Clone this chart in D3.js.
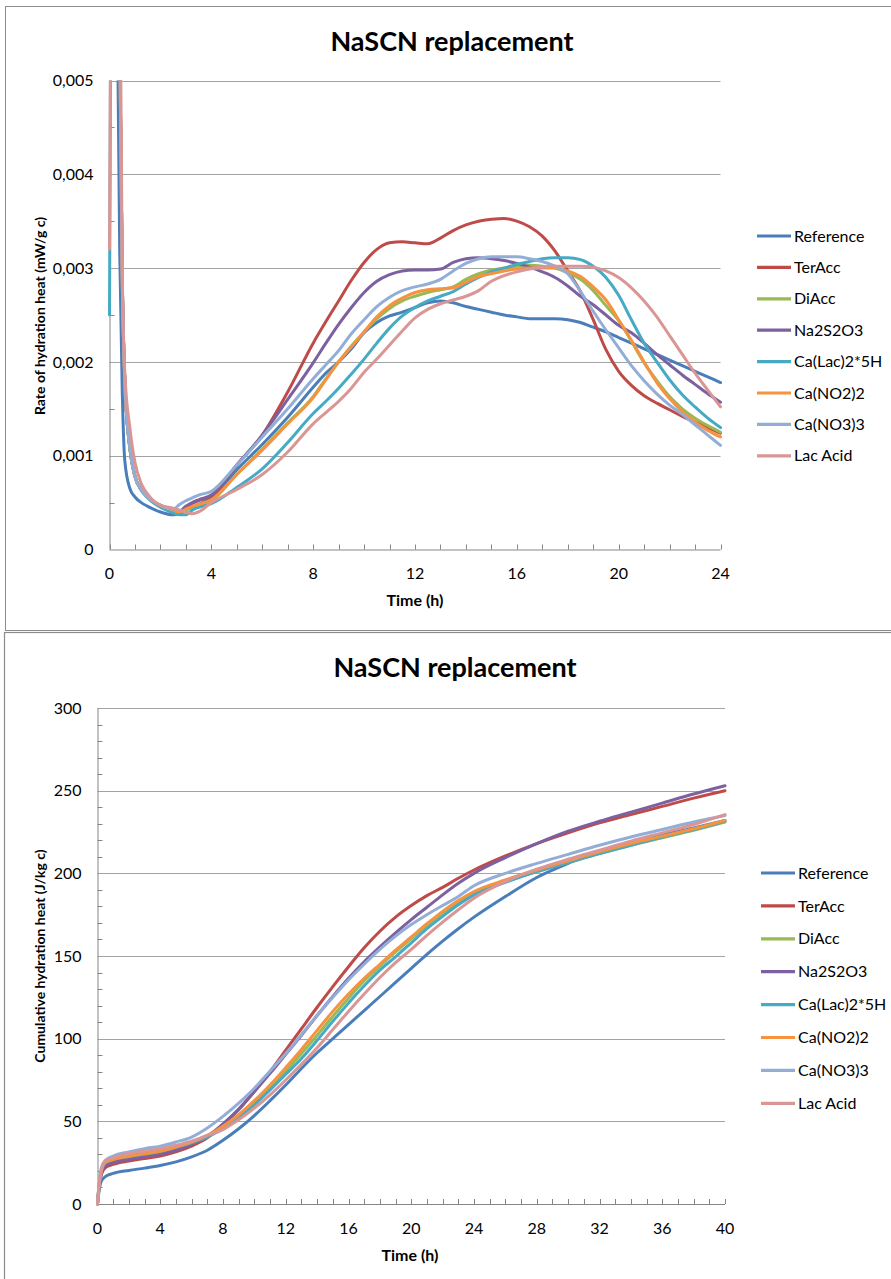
<!DOCTYPE html>
<html>
<head>
<meta charset="utf-8">
<script src="https://cdn.jsdelivr.net/npm/d3@7"></script>
<style>
  html, body { margin: 0; padding: 0; background: #fff; }
  svg { display: block; font-family: "Lato", "Open Sans", sans-serif; }
</style>
</head>
<body>
<svg id="chart" width="891" height="1279"></svg>
<script>
// ---------- DATA ----------
const seriesNames = ["Reference", "TerAcc", "DiAcc", "Na2S2O3", "Ca(Lac)2*5H", "Ca(NO2)2", "Ca(NO3)3", "Lac Acid"];
const seriesColors = ["#4A7EBB", "#BE4B48", "#98B954", "#7D60A0", "#46AAC5", "#F69240", "#93AED6", "#D99694"];

// Top chart: rate of hydration heat (mW/g c) vs time (h)
const rateHours = [0, 0.1, 0.2, 0.3, 0.4, 0.5, 0.6, 0.8, 1, 1.25, 1.5, 2, 2.5, 2.75, 3, 3.25, 3.5,
  4, 5, 6, 7, 8, 8.5, 9, 9.5, 10, 10.5, 11, 11.5, 12, 12.5, 13, 13.5, 14, 14.5, 15, 15.5, 16, 16.5,
  17, 17.5, 18, 18.5, 19, 19.5, 20, 20.5, 21, 21.5, 22, 22.5, 23, 23.5, 24];

const rateReference = [0.012, 0.012, 0.011, 0.006, 0.0032, 0.0017, 0.00095, 0.00065, 0.00056, 0.0005, 0.00046, 0.0004, 0.00037, 0.00038, 0.00042, 0.00045, 0.00048,
  0.00055, 0.00085, 0.00112, 0.00141,
  0.00173, 0.00188, 0.002, 0.00214, 0.00231, 0.00242, 0.00249, 0.00253, 0.00258, 0.00263, 0.00265, 0.00263, 0.00259, 0.00256, 0.00253, 0.0025, 0.00248, 0.00246, 0.00246, 0.00246, 0.00245, 0.00242, 0.00237, 0.00232, 0.00226, 0.0022, 0.00214, 0.00208, 0.00202, 0.00196, 0.0019, 0.00184, 0.00178];
const rateTerAcc = [0.006, 0.012, 0.012, 0.009, 0.0055, 0.0029, 0.0018, 0.00108, 0.00078, 0.00064, 0.00056, 0.00047, 0.00042, 0.0004, 0.00045, 0.00049, 0.00052,
  0.00057, 0.0009, 0.00122, 0.00168,
  0.0022, 0.00243, 0.00265, 0.00287, 0.00306, 0.0032, 0.00327, 0.00328, 0.00327, 0.00326, 0.00332, 0.0034, 0.00346, 0.0035, 0.00352, 0.00353, 0.0035, 0.00344, 0.00334, 0.00318, 0.00297, 0.00275, 0.00245, 0.00213, 0.0019, 0.00175, 0.00164, 0.00156, 0.00149, 0.00142, 0.00136, 0.0013, 0.00124];
const rateDiAcc = [0.006, 0.012, 0.012, 0.009, 0.0055, 0.0029, 0.0018, 0.00108, 0.00078, 0.00064, 0.00056, 0.00047, 0.00042, 0.0004, 0.00042, 0.00045, 0.00047,
  0.00052, 0.0008, 0.00107, 0.00135,
  0.00163, 0.00182, 0.002, 0.00217, 0.00232, 0.00246, 0.00257, 0.00265, 0.0027, 0.00274, 0.00277, 0.0028, 0.00288, 0.00294, 0.00298, 0.003, 0.00302, 0.00303, 0.00302, 0.003, 0.00295, 0.00288, 0.00276, 0.0026, 0.00244, 0.00222, 0.00199, 0.0018, 0.00163, 0.0015, 0.0014, 0.00132, 0.00125];
const rateNa2S2O3 = [0.006, 0.012, 0.012, 0.009, 0.0055, 0.0029, 0.0018, 0.00108, 0.00078, 0.00064, 0.00056, 0.00047, 0.00042, 0.00041, 0.00046, 0.0005, 0.00053,
  0.00058, 0.0009, 0.00122, 0.0016,
  0.00199, 0.0022, 0.0024, 0.00258, 0.00274, 0.00286, 0.00293, 0.00297, 0.00298, 0.00298, 0.00299, 0.00306, 0.0031, 0.00311, 0.0031, 0.00308, 0.00305, 0.00301, 0.00296, 0.0029, 0.00281, 0.0027, 0.00261, 0.0025, 0.00239, 0.00231, 0.0022, 0.00208, 0.00197, 0.00186, 0.00176, 0.00166, 0.00157];
const rateCaLac = [0.0025, 0.009, 0.012, 0.009, 0.0055, 0.0029, 0.0018, 0.00108, 0.00078, 0.00063, 0.00055, 0.00045, 0.00039, 0.00037, 0.00037, 0.00042, 0.00045,
  0.00049, 0.00066, 0.00086, 0.00114,
  0.00145, 0.00158, 0.00172, 0.00187, 0.00203, 0.0022, 0.00236, 0.00249, 0.00258, 0.00265, 0.0027, 0.00275, 0.00283, 0.0029, 0.00296, 0.003, 0.00304, 0.00307, 0.0031, 0.00311, 0.00311, 0.00309, 0.00302, 0.0029, 0.00271, 0.00245, 0.0022, 0.002, 0.00181, 0.00165, 0.00152, 0.0014, 0.0013];
const rateCaNO2 = [0.006, 0.012, 0.012, 0.009, 0.0055, 0.0029, 0.0018, 0.00108, 0.00078, 0.00064, 0.00056, 0.00047, 0.00042, 0.0004, 0.00043, 0.00046, 0.00048,
  0.00053, 0.0008, 0.00106, 0.00134,
  0.00162, 0.00181, 0.002, 0.00216, 0.00232, 0.00248, 0.0026, 0.00268, 0.00274, 0.00277, 0.00278, 0.00279, 0.00285, 0.00291, 0.00294, 0.00297, 0.00299, 0.003, 0.003, 0.003, 0.00297, 0.00291, 0.0028, 0.00266, 0.00245, 0.00223, 0.002, 0.00178, 0.00161, 0.00147, 0.00136, 0.00127, 0.0012];
const rateCaNO3 = [0.006, 0.012, 0.012, 0.009, 0.0055, 0.0029, 0.0018, 0.00108, 0.00078, 0.00064, 0.00056, 0.00047, 0.00043, 0.00048, 0.00052, 0.00055, 0.00058,
  0.00062, 0.0009, 0.0012, 0.0015,
  0.00182, 0.00197, 0.00212, 0.0023, 0.00245, 0.00259, 0.00269, 0.00276, 0.0028, 0.00283, 0.00288, 0.00297, 0.00305, 0.0031, 0.00312, 0.00312, 0.00312, 0.0031, 0.00307, 0.00302, 0.00294, 0.00275, 0.00254, 0.00234, 0.00215, 0.00196, 0.0018, 0.00166, 0.00154, 0.00144, 0.00133, 0.00122, 0.00111];
const rateLacAcid = [0.0032, 0.009, 0.012, 0.01, 0.0068, 0.003, 0.0019, 0.0013, 0.00093, 0.0007, 0.00059, 0.00047, 0.00044, 0.00042, 0.0004, 0.00038, 0.0004,
  0.0005, 0.00064, 0.0008, 0.00104,
  0.00134, 0.00146, 0.00158, 0.00172, 0.00189, 0.00203, 0.00218, 0.00233, 0.00247, 0.00256, 0.00262, 0.00266, 0.0027, 0.00276, 0.00286, 0.00292, 0.00296, 0.00299, 0.00301, 0.00302, 0.00302, 0.00302, 0.00301, 0.00297, 0.0029, 0.00279, 0.00265, 0.00248, 0.00228, 0.00208, 0.00188, 0.0017, 0.00152];

// Bottom chart: cumulative hydration heat (J/kg c) vs time (h)
const cumHours = [0, 0.1, 0.25, 0.5, 1, 2, 3, 4, 5, 6, 7, 8, 9, 10, 11, 12, 13, 14, 15, 16, 17, 18, 19, 20,
  21, 22, 23, 24, 26, 28, 30, 32, 34, 36, 38, 40];
const cumReference = [0, 8, 14, 16.5, 18.5, 20.3, 21.7, 23.3, 25.5, 28.5, 32.5, 38.5, 45.5, 53.5, 62.5, 72, 82, 91.5, 100, 108.5, 117, 125.5, 134, 142.5, 151, 159, 166.5, 173.5, 186, 197.5, 206, 213.5, 218, 223, 227.5, 232];
const cumTerAcc = [0, 10, 18, 22, 24, 26, 27.5, 29, 31.5, 35, 40, 48, 57, 68, 80, 93, 106, 119, 131.5, 143.5, 155, 165, 173.5, 180.5, 186.5, 191.5, 197, 202, 210.5, 218, 224.5, 230.5, 235.5, 240.5, 245.5, 250];
const cumDiAcc = [0, 11, 20, 24.5, 26.5, 28.5, 30, 31.5, 34, 37, 41, 46.5, 53, 61, 70.5, 80.5, 91, 102, 113.5, 124.5, 135, 144, 152.5, 160.5, 168.5, 176, 182.5, 188, 195, 201, 206.5, 212, 217, 221.5, 226, 231];
const cumNa2S2O3 = [0, 10, 19, 23, 25, 27, 28.5, 30, 32.5, 36, 41, 48.5, 57.5, 68, 79, 90.5, 102, 114, 125.5, 136.5, 146.5, 155.5, 164, 172, 179.5, 187, 194, 200, 209.5, 218, 225.5, 231.5, 237, 242.5, 248, 253];
const cumCaLac = [0, 11, 20, 25, 27, 29.5, 31, 32.5, 34.5, 37, 40.5, 45.5, 52, 60, 69, 78.5, 88, 99, 110.5, 121.5, 132, 141.5, 149.5, 158, 166.5, 174, 181, 187, 194.5, 201, 206.5, 212, 217, 222, 226.5, 231.5];
const cumCaNO2 = [0, 11, 20, 25, 27, 29, 30.5, 32, 34.5, 37.5, 41.5, 47, 54, 62.5, 72, 82.5, 93.5, 105, 116.5, 127, 136.5, 145, 153.5, 161.5, 169.5, 177, 183.5, 189, 196, 202, 207.5, 213, 218, 222.5, 227, 232];
const cumCaNO3 = [0, 12, 22, 26.5, 29, 31.5, 33.5, 35, 37.5, 40.5, 46, 53, 61, 70, 80.5, 91, 102.5, 114, 125, 135.5, 145, 154, 162, 169, 175, 180.5, 186, 192.5, 200, 206, 211.5, 217, 222, 226.5, 231, 235];
const cumLacAcid = [0, 12, 21, 26, 28, 30.5, 32, 33.5, 35.5, 38, 41.5, 45, 51, 58, 66, 75, 84.5, 94.5, 105.5, 116.5, 127, 137, 146, 154, 162.5, 170.5, 178, 185, 195, 202.5, 208.5, 214, 219.5, 224.5, 229.5, 235.5];

// Ticks
const rateMajorTicks = [0, 0.001, 0.002, 0.003, 0.004, 0.005];
const rateTickLabels = ["0", "0,001", "0,002", "0,003", "0,004", "0,005"];
const rateMinorTicks = [0.0005, 0.0015, 0.0025, 0.0035, 0.0045];
const rateHourTicks = [0, 4, 8, 12, 16, 20, 24];
const rateHourMinor = [1, 2, 3, 5, 6, 7, 9, 10, 11, 13, 14, 15, 17, 18, 19, 21, 22, 23];
const cumMajorTicks = [0, 50, 100, 150, 200, 250, 300];
const cumMinorTicks = [10, 20, 30, 40, 60, 70, 80, 90, 110, 120, 130, 140, 160, 170, 180, 190, 210, 220, 230, 240, 260, 270, 280, 290];
const cumHourTicks = [0, 4, 8, 12, 16, 20, 24, 28, 32, 36, 40];
const cumHourMinor = [1, 2, 3, 5, 6, 7, 9, 10, 11, 13, 14, 15, 17, 18, 19, 21, 22, 23, 25, 26, 27, 29, 30, 31, 33, 34, 35, 37, 38, 39];

const titleText = "NaSCN replacement";
const xTitle = "Time (h)";
const rateYTitle = "Rate of hydration heat (mW/g c)";
const cumYTitle = "Cumulative hydration heat (J/kg c)";

// ---------- DRAW ----------
const svg = d3.select("#chart");
svg.append("rect").attr("width", 891).attr("height", 1279).attr("fill", "#fff");

// panel borders
svg.append("rect").attr("x", 5.5).attr("y", 6.5).attr("width", 950).attr("height", 624)
  .attr("fill", "none").attr("stroke", "#8c8c8c").attr("stroke-width", 1);
svg.append("rect").attr("x", 4.5).attr("y", 632.5).attr("width", 950).attr("height", 700)
  .attr("fill", "none").attr("stroke", "#8c8c8c").attr("stroke-width", 1.2);

function drawChart(cfg) {
  const g = svg.append("g");
  const x = d3.scaleLinear().domain(cfg.xDomain).range([cfg.left, cfg.right]);
  const y = d3.scaleLinear().domain(cfg.yDomain).range([cfg.bottom, cfg.top]);

  // gridlines
  g.append("g").selectAll("line").data(cfg.yMajor.filter(v => v > 0)).join("line")
    .attr("x1", cfg.left).attr("x2", cfg.right)
    .attr("y1", d => Math.round(y(d)) + 0.5).attr("y2", d => Math.round(y(d)) + 0.5)
    .attr("stroke", "#a3a3a3").attr("stroke-width", 1);

  // minor y ticks (inside)
  g.append("g").selectAll("line").data(cfg.yMinor).join("line")
    .attr("x1", cfg.left).attr("x2", cfg.left + 5)
    .attr("y1", d => Math.round(y(d)) + 0.5).attr("y2", d => Math.round(y(d)) + 0.5)
    .attr("stroke", "#868686");
  // x ticks (inside)
  g.append("g").selectAll("line").data(cfg.xMajor.concat(cfg.xMinor)).join("line")
    .attr("x1", d => Math.round(x(d)) + 0.5).attr("x2", d => Math.round(x(d)) + 0.5)
    .attr("y1", cfg.bottom).attr("y2", cfg.bottom - 5)
    .attr("stroke", "#868686");

  // axes lines
  g.append("line").attr("x1", cfg.left + 0.5).attr("x2", cfg.left + 0.5)
    .attr("y1", cfg.top).attr("y2", cfg.bottom).attr("stroke", "#868686");
  g.append("line").attr("x1", cfg.left).attr("x2", cfg.right)
    .attr("y1", cfg.bottom + 0.5).attr("y2", cfg.bottom + 0.5).attr("stroke", "#868686");

  // tick labels
  g.append("g").selectAll("text").data(cfg.yMajor).join("text")
    .attr("x", cfg.left - 16).attr("y", d => y(d)).attr("dy", "0.35em")
    .attr("text-anchor", "end").attr("font-size", 16).attr("fill", "#000")
    .text((d, i) => cfg.yLabels[i]);
  g.append("g").selectAll("text").data(cfg.xMajor).join("text")
    .attr("x", d => x(d)).attr("y", cfg.bottom + 24).attr("dy", "0.35em")
    .attr("text-anchor", "middle").attr("font-size", 16).attr("fill", "#000")
    .text(d => d);

  // titles
  g.append("text").attr("x", cfg.titleX).attr("y", cfg.titleY)
    .attr("text-anchor", "middle").attr("font-size", 27).attr("font-weight", "bold")
    .text(titleText);
  g.append("text").attr("x", cfg.xTitleX).attr("y", cfg.xTitleY).attr("dy", "0.35em")
    .attr("text-anchor", "middle").attr("font-size", 16).attr("font-weight", "bold")
    .text(xTitle);
  g.append("text").attr("transform", `translate(${cfg.yTitleX},${cfg.yTitleY}) rotate(-90)`)
    .attr("dy", "0.35em").attr("text-anchor", "middle").attr("font-size", 14).attr("font-weight", "bold")
    .text(cfg.yTitle);

  // clip
  const clipId = cfg.id + "-clip";
  svg.append("defs").append("clipPath").attr("id", clipId).append("rect")
    .attr("x", cfg.left - 2).attr("y", cfg.top).attr("width", cfg.right - cfg.left + 4)
    .attr("height", cfg.bottom - cfg.top + 2);

  const line = d3.line().x(d => x(d[0])).y(d => y(d[1])).curve(d3.curveMonotoneX);
  const lg = g.append("g").attr("clip-path", `url(#${clipId})`);
  cfg.series.forEach((vals, i) => {
    const pts = cfg.hours.map((h, j) => [h, vals[j]]);
    lg.append("path").attr("d", line(pts)).attr("fill", "none")
      .attr("stroke", seriesColors[i]).attr("stroke-width", 3)
      .attr("stroke-linejoin", "round").attr("stroke-linecap", "round");
  });

  // legend
  const leg = g.append("g");
  seriesNames.forEach((name, i) => {
    const yy = cfg.legY + i * cfg.legStep;
    leg.append("line").attr("x1", cfg.legX).attr("x2", cfg.legX + 34)
      .attr("y1", yy).attr("y2", yy).attr("stroke", seriesColors[i]).attr("stroke-width", 3.2);
    leg.append("text").attr("x", cfg.legX + 37).attr("y", yy).attr("dy", "0.35em")
      .attr("font-size", 16).attr("fill", "#000").text(name);
  });
}

drawChart({
  id: "rate", xDomain: [0, 24], yDomain: [0, 0.005],
  left: 109.5, right: 720.5, top: 80.5, bottom: 549.5,
  yMajor: rateMajorTicks, yLabels: rateTickLabels, yMinor: rateMinorTicks,
  xMajor: rateHourTicks, xMinor: rateHourMinor,
  titleX: 452, titleY: 51, xTitleX: 415, xTitleY: 600, yTitleX: 40, yTitleY: 316,
  yTitle: rateYTitle,
  hours: rateHours,
  series: [rateReference, rateTerAcc, rateDiAcc, rateNa2S2O3, rateCaLac, rateCaNO2, rateCaNO3, rateLacAcid],
  legX: 757, legY: 236, legStep: 31.4
});

drawChart({
  id: "cum", xDomain: [0, 40], yDomain: [0, 300],
  left: 97.5, right: 725, top: 708, bottom: 1204,
  yMajor: cumMajorTicks, yLabels: cumMajorTicks.map(String), yMinor: cumMinorTicks,
  xMajor: cumHourTicks, xMinor: cumHourMinor,
  titleX: 455, titleY: 677, xTitleX: 410, xTitleY: 1255, yTitleX: 40, yTitleY: 956,
  yTitle: cumYTitle,
  hours: cumHours,
  series: [cumReference, cumTerAcc, cumDiAcc, cumNa2S2O3, cumCaLac, cumCaNO2, cumCaNO3, cumLacAcid],
  legX: 761, legY: 873, legStep: 32.9
});
</script>
</body>
</html>
